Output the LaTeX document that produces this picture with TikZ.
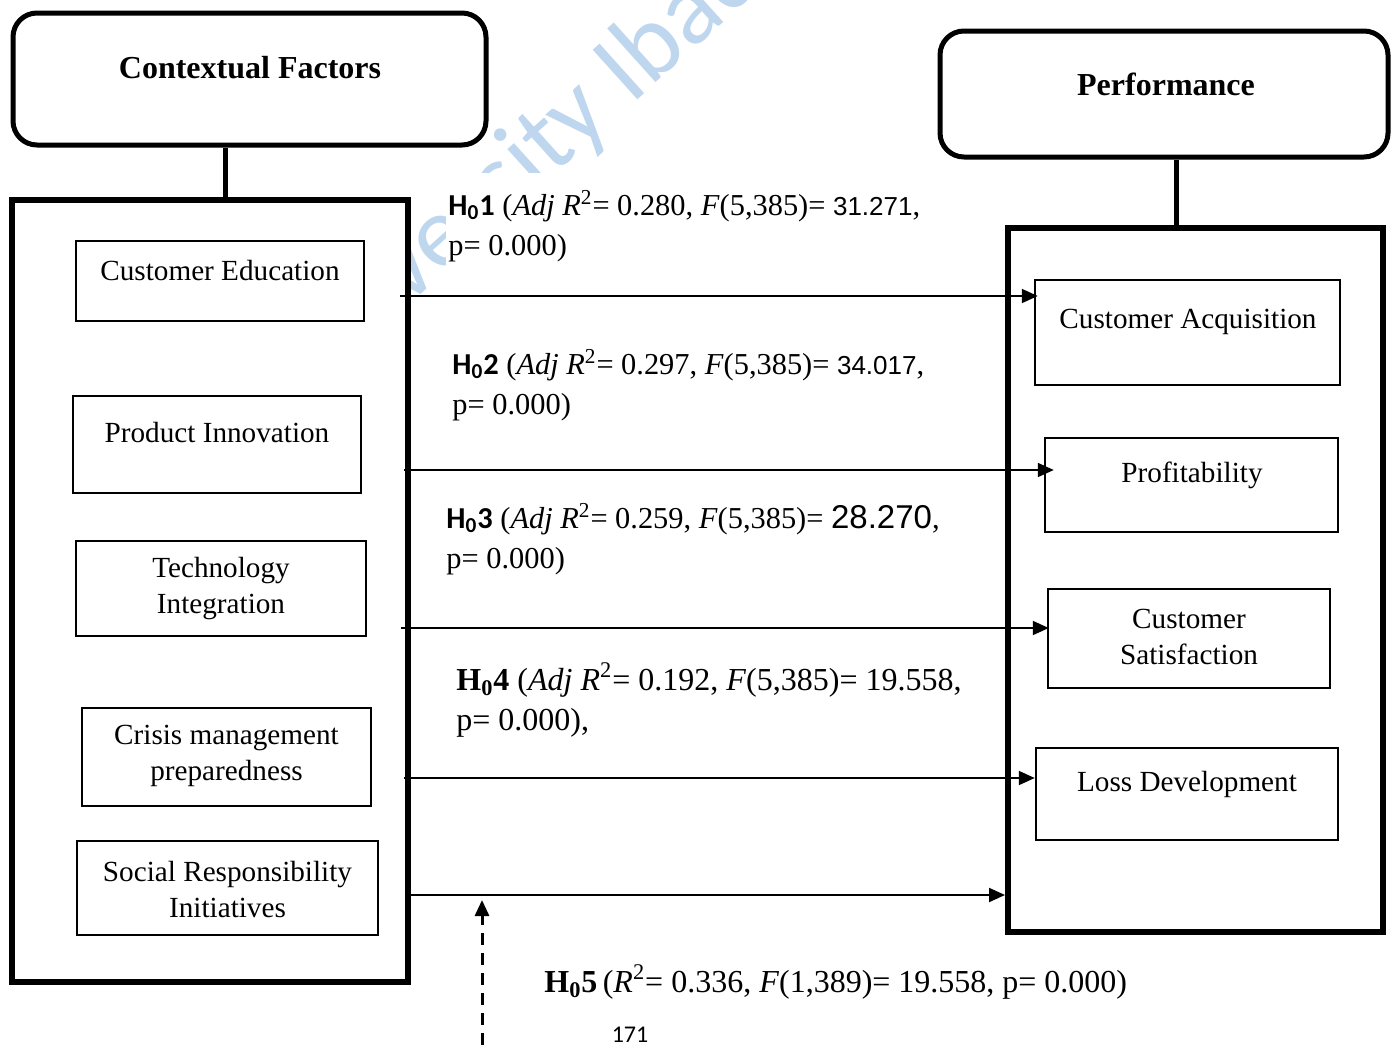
\documentclass[tikz,border=0pt]{standalone}
\usepackage{fontspec}
\setmainfont{Liberation Serif}
\newfontfamily\calib{Carlito}
\newfontfamily\arialf{Liberation Sans}
\usetikzlibrary{arrows.meta}
\definecolor{wm}{RGB}{190,214,238}
\tikzset{
 hdr/.style={draw, line width=2.5pt, rounded corners=12pt, fill=white, inner sep=0pt},
 outerbox/.style={draw, line width=3pt, fill=white, inner sep=0pt},
 inbox/.style={draw, line width=1.25pt, fill=white, inner sep=0pt},
 hdrtext/.style={font=\fontsize{16}{19}\selectfont\bfseries, inner sep=0pt},
 boxtext/.style={font=\fontsize{14.6}{18}\selectfont, align=center, inner sep=0pt},
 stat/.style={font=\fontsize{15.2}{20}\selectfont, align=left, anchor=west, fill=white, inner sep=1pt},
 statb/.style={stat, font=\fontsize{16}{20}\selectfont},
 link/.style={line width=2.5pt},
 arr/.style={line width=1pt, -{Triangle[length=8pt,width=7pt]}},
 dasharr/.style={line width=1.5pt, dash pattern=on 6pt off 4pt, -{Triangle[length=8pt,width=7pt]}},
 wmark/.style={text=wm, font=\calib\fontsize{52}{56}\selectfont, rotate=42, inner sep=0pt},
}
\begin{document}
\begin{tikzpicture}[x=0.5pt,y=-0.5pt]
\useasboundingbox (0,0) rectangle (1391,1045);
% watermark
\begin{scope}
\clip (0,0) rectangle (1391,1045);
\node[wmark, anchor=base west] (wm1) at (535,192) {ity Ibadan};
\node[wmark, anchor=base east] (wm2) at (535,192) {Univers};
\end{scope}

% headers
\node[hdr, minimum width=236.5pt, minimum height=66pt] (cf) at (249.5,79) {};
\node[hdrtext] (cft) at (250,68) {Contextual Factors};
\node[hdr, minimum width=224pt, minimum height=63pt] (pf) at (1164,94) {};
\node[hdrtext] (pft) at (1166,84) {Performance};

% big boxes
\node[outerbox, minimum width=198pt, minimum height=391pt] (lb) at (210,591) {};
\node[outerbox, minimum width=187.5pt, minimum height=352pt] (rb) at (1195.5,580) {};

\coordinate (c1) at (225,146);
\coordinate (c2) at (1176,157);
\draw[link] (cf.south -| c1) -- (lb.north -| c1);
\draw[link] (pf.south -| c2) -- (rb.north -| c2);

% left inner boxes
\node[inbox, minimum width=144pt, minimum height=40pt] (ce) at (220,281) {};
\node[boxtext] at (220,271) {Customer Education};
\node[inbox, minimum width=144pt, minimum height=48.5pt] (pi) at (217,444.5) {};
\node[boxtext] at (217,433) {Product Innovation};
\node[inbox, minimum width=145pt, minimum height=47.5pt] (ti) at (221,588.5) {};
\node[boxtext] at (221,589) {Technology\\Integration};
\node[inbox, minimum width=144.5pt, minimum height=49pt] (cm) at (226.5,757) {};
\node[boxtext] at (226.5,756) {Crisis management\\preparedness};
\node[inbox, minimum width=150.5pt, minimum height=47pt] (sr) at (227.5,888) {};
\node[boxtext] at (227.5,889) {Social Responsibility\\Initiatives};

% right inner boxes
\node[inbox, minimum width=152.5pt, minimum height=52.5pt] (ca) at (1187.5,332.5) {};
\node[boxtext] at (1188,322) {Customer Acquisition};
\node[inbox, minimum width=146.5pt, minimum height=47pt] (pr) at (1191.5,485) {};
\node[boxtext] at (1192,475) {Profitability};
\node[inbox, minimum width=141pt, minimum height=49.5pt] (cs) at (1189,638.5) {};
\node[boxtext] at (1189,637) {Customer\\Satisfaction};
\node[inbox, minimum width=151pt, minimum height=46pt] (ld) at (1187,794) {};
\node[boxtext] at (1187,784) {Loss Development};

% stat labels
\node[stat, inner ysep=9pt] (h1) at (446,226) {{\calib\bfseries H\textsubscript{0}1} (\textit{Adj R}\textsuperscript{2}= 0.280, \textit{F}(5,385)= {\arialf\fontsize{13}{20}\selectfont 31.271},\\p= 0.000)};
\node[stat] (h2) at (450,385) {{\calib\bfseries H\textsubscript{0}2} (\textit{Adj R}\textsuperscript{2}= 0.297, \textit{F}(5,385)= {\arialf\fontsize{13}{20}\selectfont 34.017},\\p= 0.000)};
\node[stat] (h3) at (444,539) {{\calib\bfseries H\textsubscript{0}3} (\textit{Adj R}\textsuperscript{2}= 0.259, \textit{F}(5,385)= {\arialf\fontsize{16.5}{20}\selectfont 28.270},\\p= 0.000)};
\node[statb] (h4) at (454,700) {\textbf{H\textsubscript{0}4} (\textit{Adj R}\textsuperscript{2}= 0.192, \textit{F}(5,385)= 19.558,\\p= 0.000),};
\node[statb] (h5) at (542,982) {\textbf{H\textsubscript{0}5}\,(\textit{R}\textsuperscript{2}= 0.336, \textit{F}(1,389)= 19.558, p= 0.000)};
\node[font=\calib\fontsize{12}{14}\selectfont, inner sep=0pt] (pg) at (630,1035) {171};

% arrows
\coordinate (a1) at (400,296);
\coordinate (a2) at (404,470);
\coordinate (a3) at (401,628);
\coordinate (a4) at (404,778);
\coordinate (a5) at (410,895);
\draw[arr, shorten >=-2pt] (a1) -- (ca.west |- a1);
\draw[arr, shorten >=-5pt] (a2) -- (pr.west |- a2);
\draw[arr, shorten >=-1pt] (a3) -- (cs.west |- a3);
\draw[arr] (a4) -- (ld.west |- a4);
\draw[arr] (a5) -- (rb.west |- a5);

\coordinate (d0) at (482,1045);
\coordinate (d1) at (482,900);
\draw[dasharr] (d0) -- (d1);
\end{tikzpicture}
\end{document}
